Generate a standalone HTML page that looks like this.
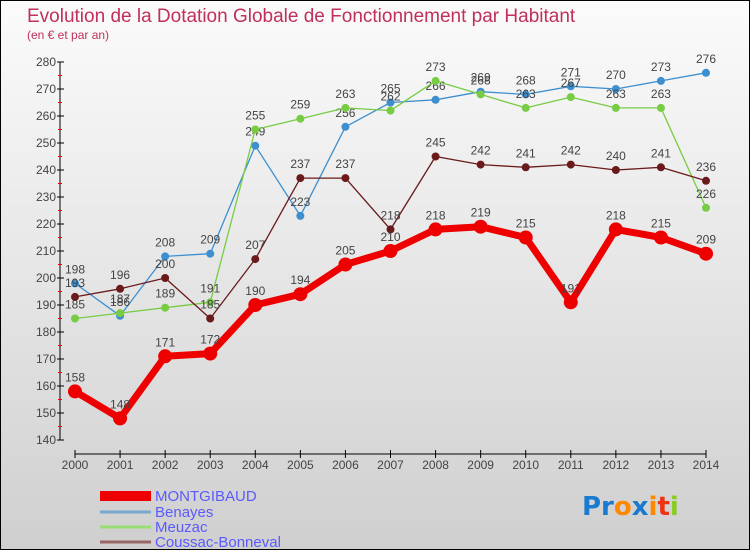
<!DOCTYPE html>
<html><head><meta charset="utf-8"><style>
html,body{margin:0;padding:0}
body{width:750px;height:550px;overflow:hidden;font-family:"Liberation Sans",sans-serif}
#wrap{position:absolute;left:0;top:0;width:748px;height:548px;border:1px solid #000;background:linear-gradient(#fbfbfb,#e8e8e8 45%,#cfcfcf)}
</style></head><body>
<div id="wrap">
<svg id="chart" width="750" height="550" style="position:absolute;left:-1px;top:-1px">
<text x="27" y="22" font-size="19" fill="#c0305a">Evolution de la Dotation Globale de Fonctionnement par Habitant</text>
<text x="27" y="39" font-size="12" fill="#c0305a">(en € et par an)</text>
<g id="axes"></g><g id="series"></g>
<g>
<rect x="100" y="491" width="51" height="10" fill="#ee0000"/>
<text x="155" y="501" font-size="15" fill="#5a5aff">MONTGIBAUD</text>
<line x1="100" y1="512" x2="151" y2="512" stroke="#7aa7cc" stroke-width="3"/>
<text x="155" y="517" font-size="15" fill="#5a5aff">Benayes</text>
<line x1="100" y1="527" x2="151" y2="527" stroke="#99dd77" stroke-width="3"/>
<text x="155" y="532" font-size="15" fill="#5a5aff">Meuzac</text>
<line x1="100" y1="542" x2="151" y2="542" stroke="#996666" stroke-width="3"/>
<text x="155" y="547" font-size="15" fill="#5a5aff">Coussac-Bonneval</text>
</g>
<g font-size="26" font-weight="bold" font-family="'DejaVu Sans',sans-serif">
<text x="582" y="515"><tspan fill="#1a7ad0">Pr</tspan><tspan fill="#ff8800">o</tspan><tspan fill="#1a7ad0">x</tspan><tspan fill="#ff8800">i</tspan><tspan fill="#ee3311">t</tspan><tspan fill="#88cc22">i</tspan></text>
</g>
</svg>
</div>
<script>
const years=[2000,2001,2002,2003,2004,2005,2006,2007,2008,2009,2010,2011,2012,2013,2014];
const montgibaud=[158,148,171,172,190,194,205,210,218,219,215,191,218,215,209];
const benayes=[198,186,208,209,249,223,256,265,266,269,268,271,270,273,276];
const meuzac=[185,187,189,191,255,259,263,262,273,268,263,267,263,263,226];
const coussac=[193,196,200,185,207,237,237,218,245,242,241,242,240,241,236];
const yTicks=[140,150,160,170,180,190,200,210,220,230,240,250,260,270,280];
const NS="http://www.w3.org/2000/svg";
const X=i=>75+i*(706-75)/(years.length-1);
const Y=v=>440-(v-140)*2.7;
function mk(t,a,p){const e=document.createElementNS(NS,t);for(const k in a)e.setAttribute(k,a[k]);p.appendChild(e);return e;}
const ax=document.getElementById('axes');
const yl=mk('line',{x1:60,y1:Y(280),x2:60,y2:Y(140),stroke:'#000'},ax);


yTicks.forEach(v=>{
  mk('line',{x1:57,y1:Y(v),x2:64,y2:Y(v),stroke:'#000'},ax);
  if(v<280)mk('line',{x1:58,y1:Y(v+5),x2:62,y2:Y(v+5),stroke:'#e00'},ax);
  const t=mk('text',{x:56,y:Y(v)+4,'font-size':12,'text-anchor':'end',fill:'#444'},ax);
  t.textContent=v;
  
  
});
const xl=mk('line',{x1:75,y1:454,x2:706,y2:454,stroke:'#000'},ax);


years.forEach((yr,i)=>{
  mk('line',{x1:X(i),y1:450,x2:X(i),y2:458,stroke:'#000'},ax);
  const t=mk('text',{x:X(i),y:469,'font-size':12,'text-anchor':'middle',fill:'#444'},ax);
  t.textContent=yr;
  
  
});
const sg=document.getElementById('series');
function series(vals,color,w,r,name){
  const g=mk('g',{},sg);
  
  
  const pl=mk('polyline',{points:vals.map((v,i)=>X(i)+','+Y(v)).join(' '),fill:'none',stroke:color,'stroke-width':w,'stroke-linejoin':'round'},g);
  
  
  vals.forEach((v,i)=>{
    const c=mk('circle',{cx:X(i),cy:Y(v),r:r,fill:color},g);
    
    
    const t=mk('text',{x:X(i),y:Y(v)-10,'font-size':12,'text-anchor':'middle',fill:'#444'},g);
    t.textContent=v;
    
    
  });
}
series(benayes,'#3d8fcf',1.3,4,'benayes');
series(meuzac,'#77cc44',1.3,4,'meuzac');
series(coussac,'#6a1a1a',1.3,4,'coussac-bonneval');
series(montgibaud,'#ee0000',7,7,'montgibaud');
</script>
</body></html>
